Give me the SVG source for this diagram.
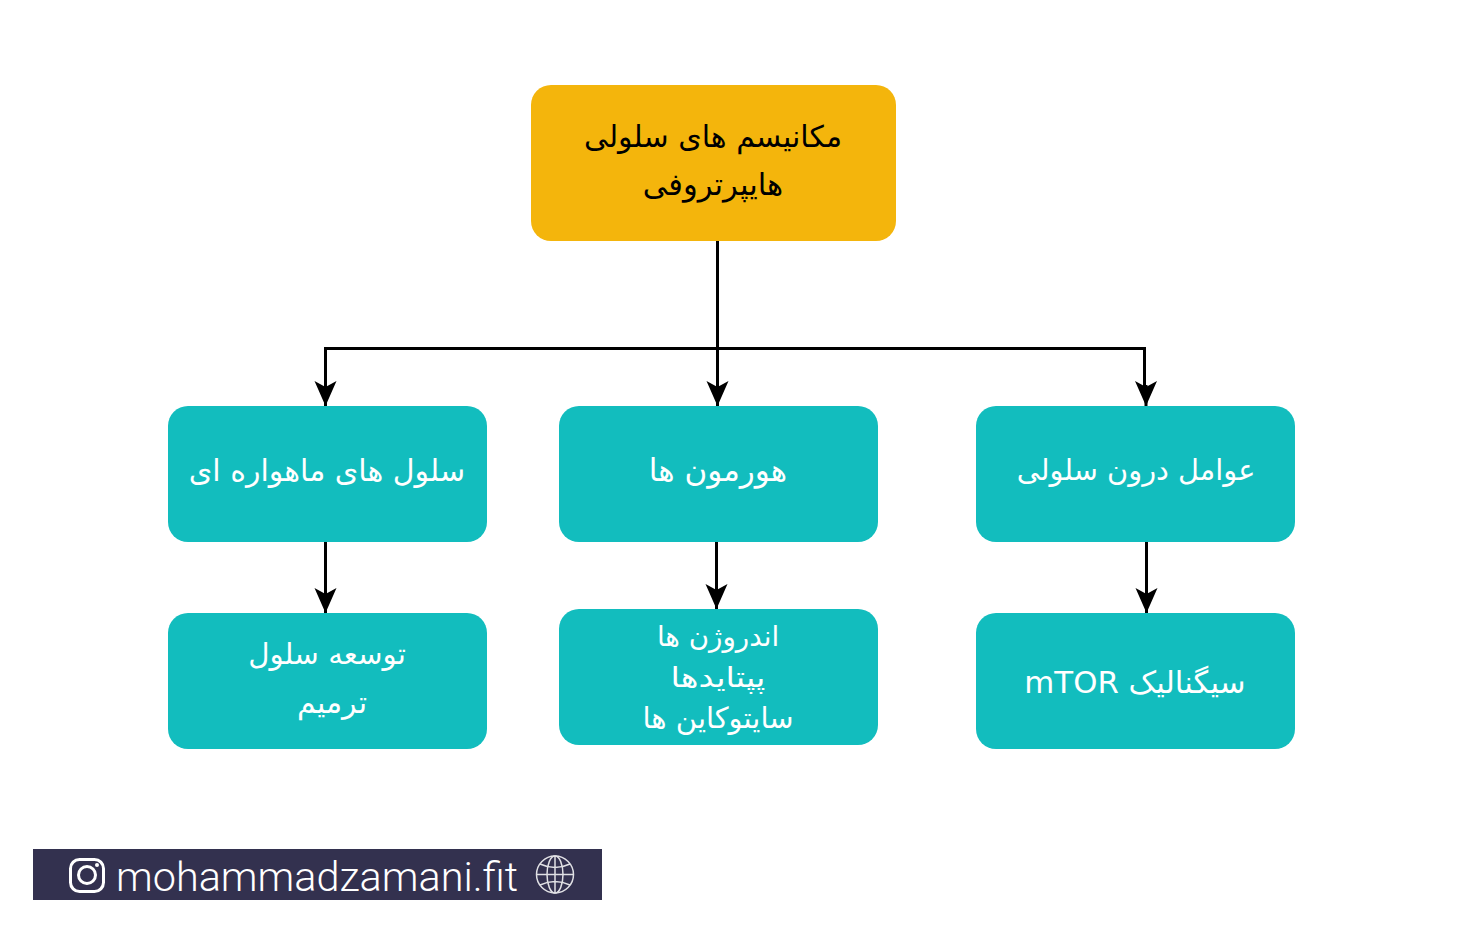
<svg xmlns="http://www.w3.org/2000/svg" width="1462" height="952" viewBox="0 0 1462 952">
<style>
.box{fill:#12bdbe}
.root{fill:#f4b50c}
.t{font-family:"DejaVu Sans",sans-serif;font-size:30px;text-anchor:middle;fill:#fff;direction:rtl}
.k{fill:#000}
.c{fill:none;stroke:#000;stroke-width:3}
.i{fill:none;stroke:#fff}
</style>
<defs>
<marker id="a" markerUnits="userSpaceOnUse" markerWidth="26" markerHeight="24" refX="25" refY="11" orient="auto" viewBox="0 0 26 22">
<path d="M0 0L6 11L0 22L25 11Z" fill="#000"/>
</marker>
</defs>
<rect width="1462" height="952" fill="#fff"/>
<g id="connectors">
<path class="c" d="M717.500 241V406" marker-end="url(#a)"/>
<path class="c" d="M325.500 406V348.500H1144.500V392"/>
<path class="c" d="M1146 385V406" marker-end="url(#a)"/>
<path class="c" d="M325.500 348.500V406" marker-end="url(#a)"/>
<path class="c" d="M325.500 542V613" marker-end="url(#a)"/>
<path class="c" d="M716.500 542V609" marker-end="url(#a)"/>
<path class="c" d="M1146.500 542V613" marker-end="url(#a)"/>
</g>
<g id="root"><rect class="root" x="531" y="85" width="365" height="156" rx="20"/>
<text class="t k" x="713" y="147">مکانیسم های سلولی</text>
<text class="t k" x="713" y="195" style="font-size:30.600px">هایپرتروفی</text></g>
<g id="n1"><rect class="box" x="168" y="406" width="319" height="136" rx="20"/><text class="t" x="327" y="481">سلول های ماهواره ای</text></g>
<g id="n2"><rect class="box" x="559" y="406" width="319" height="136" rx="20"/><text class="t" x="718" y="481" style="font-size:31px">هورمون ها</text></g>
<g id="n3"><rect class="box" x="976" y="406" width="319" height="136" rx="20"/><text class="t" x="1136" y="480" style="font-size:28.800px">عوامل درون سلولی</text></g>
<g id="n4"><rect class="box" x="168" y="613" width="319" height="136" rx="20"/><text class="t" x="327" y="664" style="font-size:29.300px">توسعه سلول</text><text class="t" x="332" y="713">ترمیم</text></g>
<g id="n5"><rect class="box" x="559" y="609" width="319" height="136" rx="20"/><text class="t" x="718" y="646" style="font-size:27.700px">اندروژن ها</text><text class="t" transform="translate(718 687) scale(1.2 1)" style="font-size:28px">پپتایدها</text><text class="t" x="718" y="728" style="font-size:29px">سایتوکاین ها</text></g>
<g id="n6"><rect class="box" x="976" y="613" width="319" height="136" rx="20"/><text class="t" x="1135" y="693" style="font-size:30.800px">سیگنالیک mTOR</text></g>
<g id="footer"><rect x="33" y="849" width="569" height="51" fill="#33314f"/>
<rect class="i" x="70.500" y="859.500" width="33" height="32" rx="9" stroke-width="3"/>
<circle class="i" cx="87" cy="875" r="8.500" stroke-width="3"/>
<circle cx="97" cy="865" r="2" fill="#fff"/>
<text x="116" y="891" font-family="Roboto,sans-serif" font-weight="300" font-size="41.400" fill="#fff">mohammadzamani.fit</text>
<g class="i" stroke-width="1.500" opacity=".85"><circle cx="555" cy="874.500" r="18.500"/><ellipse cx="555" cy="874.500" rx="8" ry="18.500"/><path d="M555 856V893M536.500 874.500H573.500M540 864Q555 871 570 864M540 885Q555 878 570 885"/></g>
</g>
</svg>
